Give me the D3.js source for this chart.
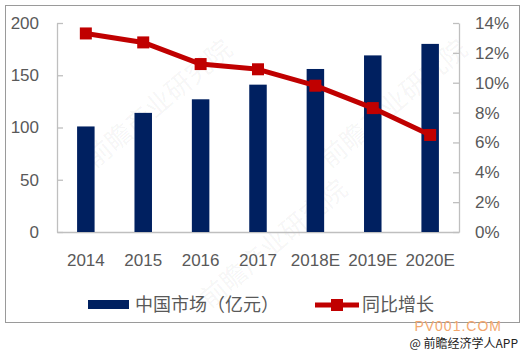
<!DOCTYPE html>
<html>
<head>
<meta charset="utf-8">
<script src="https://cdn.jsdelivr.net/npm/d3@7"></script>
<style>
  body { margin: 0; background: #fff; }
  svg { display: block; }
</style>
</head>
<body>
<svg id="chart"></svg>
<script>
let width = 524
let height = 353

let years = ['2014', '2015', '2016', '2017', '2018E', '2019E', '2020E']
let market = [101, 114, 127, 141, 156, 169, 180]
let growth = [13.3, 12.7, 11.25, 10.9, 9.8, 8.3, 6.5]
let leftTicks = [0, 50, 100, 150, 200]
let rightTicks = [0, 2, 4, 6, 8, 10, 12, 14]

let plotLeft = 57, plotRight = 459, plotTop = 23, plotBottom = 232
let textColor = '#595959'
let axisColor = '#BFBFBF'
let font = '"Liberation Sans", "Noto Sans CJK SC", sans-serif'

let svg = d3.select('#chart')
    .attr('width', width)
    .attr('height', height)

// outer frame
svg.append('rect')
    .attr('x', 5.5).attr('y', 5.5)
    .attr('width', 514).attr('height', 317)
    .attr('fill', '#fff')
    .attr('stroke', '#9a9a9a')
    .attr('stroke-width', 1)

// faint watermarks
let marks = [[160, 105], [395, 105], [275, 245]]
marks.forEach(m => {
    svg.append('text')
        .attr('transform', 'translate(' + m[0] + ',' + m[1] + ') rotate(-40)')
        .attr('text-anchor', 'middle')
        .attr('dominant-baseline', 'middle')
        .attr('font-family', '"Noto Sans CJK SC", sans-serif')
        .attr('font-size', 26)
        .attr('fill', '#000')
        .attr('fill-opacity', 0.05)
        .text('前瞻产业研究院')
})

let xScale = d3.scaleBand()
    .domain(years)
    .range([plotLeft, plotRight])
    .paddingInner(0.695)
    .paddingOuter(0.35)

let yLeft = d3.scaleLinear().domain([0, 200]).range([plotBottom, plotTop])
let yRight = d3.scaleLinear().domain([0, 14]).range([plotBottom, plotTop])

let styleAxis = (g) => {
    g.selectAll('path').attr('stroke', axisColor).attr('stroke-width', 1.3)
    g.selectAll('line').attr('stroke', axisColor).attr('stroke-width', 1.3)
    g.selectAll('text')
        .attr('fill', textColor)
        .attr('font-family', font)
        .attr('font-size', 17)
}

let yAxisLeft = d3.axisLeft(yLeft)
    .tickValues(leftTicks)
    .tickSize(-6)
    .tickSizeOuter(0)
    .tickPadding(18)
svg.append('g')
    .attr('transform', 'translate(' + plotLeft + ',0)')
    .call(yAxisLeft)
    .call(styleAxis)

let yAxisRight = d3.axisRight(yRight)
    .tickValues(rightTicks)
    .tickFormat(d => d + '%')
    .tickSize(-6)
    .tickSizeOuter(0)
    .tickPadding(16)
svg.append('g')
    .attr('transform', 'translate(' + plotRight + ',0)')
    .call(yAxisRight)
    .call(styleAxis)

let xAxis = d3.axisBottom(xScale)
    .tickSize(0)
    .tickPadding(22)
svg.append('g')
    .attr('transform', 'translate(0,' + plotBottom + ')')
    .call(xAxis)
    .call(styleAxis)

// bars
svg.selectAll('.bar')
    .data(years)
    .enter()
    .append('rect')
    .attr('class', 'bar')
    .attr('x', d => xScale(d))
    .attr('width', xScale.bandwidth())
    .attr('y', (d, i) => yLeft(market[i]))
    .attr('height', (d, i) => plotBottom - yLeft(market[i]))
    .attr('fill', '#002060')

// growth line
let cx = d => xScale(d) + xScale.bandwidth() / 2
let line = d3.line()
    .x((d, i) => cx(years[i]))
    .y(d => yRight(d))
svg.append('path')
    .datum(growth)
    .attr('d', line)
    .attr('fill', 'none')
    .attr('stroke', '#C00000')
    .attr('stroke-width', 5)
    .attr('stroke-linejoin', 'round')

let sq = 12
svg.selectAll('.marker')
    .data(growth)
    .enter()
    .append('rect')
    .attr('class', 'marker')
    .attr('x', (d, i) => cx(years[i]) - sq / 2)
    .attr('y', d => yRight(d) - sq / 2)
    .attr('width', sq)
    .attr('height', sq)
    .attr('fill', '#C00000')

// legend
let legend = svg.append('g')
legend.append('rect')
    .attr('x', 88).attr('y', 300)
    .attr('width', 41).attr('height', 9)
    .attr('fill', '#002060')
legend.append('text')
    .attr('x', 135).attr('y', 311)
    .attr('font-family', '"Noto Sans CJK SC", sans-serif')
    .attr('font-size', 18)
    .attr('fill', textColor)
    .text('中国市场（亿元）')
legend.append('line')
    .attr('x1', 315).attr('x2', 359)
    .attr('y1', 305).attr('y2', 305)
    .attr('stroke', '#C00000')
    .attr('stroke-width', 5)
legend.append('rect')
    .attr('x', 331).attr('y', 299)
    .attr('width', 12).attr('height', 12)
    .attr('fill', '#C00000')
legend.append('text')
    .attr('x', 362).attr('y', 311)
    .attr('font-family', '"Noto Sans CJK SC", sans-serif')
    .attr('font-size', 18)
    .attr('fill', textColor)
    .text('同比增长')

// source marks
svg.append('text')
    .attr('x', 502).attr('y', 331)
    .attr('text-anchor', 'end')
    .attr('font-family', '"Liberation Sans", sans-serif')
    .attr('font-size', 14)
    .attr('letter-spacing', 1)
    .attr('fill', '#F3A76E')
    .text('PV001.COM')
svg.append('text')
    .attr('x', 518).attr('y', 348)
    .attr('text-anchor', 'end')
    .attr('font-family', '"Noto Sans CJK SC", sans-serif')
    .attr('font-size', 12)
    .attr('fill', '#222')
    .text('@ 前瞻经济学人APP')
</script>
</body>
</html>
